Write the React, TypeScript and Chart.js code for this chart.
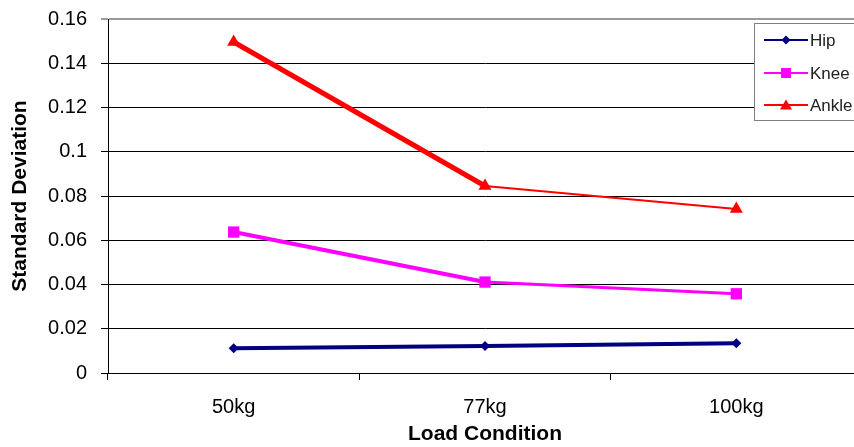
import React, { useEffect, useRef } from 'react';
import { Chart, registerables } from 'chart.js';

Chart.register(...registerables);

const categories = ['50kg', '77kg', '100kg'];
const seriesNames = ['Hip', 'Knee', 'Ankle'];
const seriesColors = ['#000080', '#FF00FF', '#FF0000'];
const hipValues = [0.0112, 0.0122, 0.0134];
const kneeValues = [0.0637, 0.0411, 0.0358];
const ankleValues = [0.1496, 0.0845, 0.0741];
const yTickLabels = ['0', '0.02', '0.04', '0.06', '0.08', '0.1', '0.12', '0.14', '0.16'];
const xTitle = 'Load Condition';
const yTitle = 'Standard Deviation';

const FONT = "'Liberation Sans', Arial, sans-serif";

function drawMarker(ctx: CanvasRenderingContext2D, style: string, x: number, y: number, r: number) {
  ctx.beginPath();
  if (style === 'rectRot') {
    ctx.moveTo(x - r, y);
    ctx.lineTo(x, y - r);
    ctx.lineTo(x + r, y);
    ctx.lineTo(x, y + r);
  } else if (style === 'rect') {
    ctx.rect(x - r, y - r, 2 * r, 2 * r);
  } else {
    ctx.moveTo(x, y - r);
    ctx.lineTo(x + r * 1.1, y + r * 0.8);
    ctx.lineTo(x - r * 1.1, y + r * 0.8);
  }
  ctx.closePath();
  ctx.fill();
}

const legendPlugin = {
  id: 'boxLegend',
  afterDraw(chart: any) {
    const ctx = chart.ctx as CanvasRenderingContext2D;
    const left = 754.5;
    const top = 23.5;
    const bottom = 120.5;
    ctx.save();
    ctx.fillStyle = '#ffffff';
    ctx.fillRect(left, top, chart.width - left + 5, bottom - top);
    ctx.strokeStyle = '#808080';
    ctx.lineWidth = 1;
    ctx.strokeRect(left, top, chart.width - left + 5, bottom - top);
    const rows = [40, 73, 105];
    const markerSizes = [4.5, 5, 5.5];
    chart.data.datasets.forEach((ds: any, i: number) => {
      const y = rows[i];
      ctx.strokeStyle = ds.borderColor;
      ctx.fillStyle = ds.borderColor;
      ctx.lineWidth = 2;
      ctx.beginPath();
      ctx.moveTo(764, y);
      ctx.lineTo(808, y);
      ctx.stroke();
      drawMarker(ctx, ds.pointStyle, 786, y, markerSizes[i]);
      ctx.fillStyle = '#222';
      ctx.font = `17px ${FONT}`;
      ctx.textAlign = 'left';
      ctx.textBaseline = 'middle';
      ctx.fillText(ds.label, 810, y + 1);
    });
    ctx.restore();
  },
};

export default function App() {
  const canvasRef = useRef<HTMLCanvasElement | null>(null);

  useEffect(() => {
    document.body.style.margin = '0';
    const canvas = canvasRef.current;
    if (!canvas) return;
    const chart = new Chart(canvas, {
      type: 'line',
      data: {
        labels: categories,
        datasets: [
          {
            label: seriesNames[0],
            data: hipValues,
            borderColor: seriesColors[0],
            backgroundColor: seriesColors[0],
            borderWidth: 4,
            pointStyle: 'rectRot',
            pointRadius: 5,
            pointBorderWidth: 0,
            tension: 0,
          },
          {
            label: seriesNames[1],
            data: kneeValues,
            borderColor: seriesColors[1],
            backgroundColor: seriesColors[1],
            borderWidth: 4,
            pointStyle: 'rect',
            pointRadius: 8,
            pointBorderWidth: 0,
            tension: 0,
            segment: { borderWidth: (c: any) => (c.p0DataIndex === 0 ? 4 : 3) },
          },
          {
            label: seriesNames[2],
            data: ankleValues,
            borderColor: seriesColors[2],
            backgroundColor: seriesColors[2],
            borderWidth: 5,
            pointStyle: 'triangle',
            pointRadius: 7.5,
            pointBorderWidth: 0,
            tension: 0,
            segment: { borderWidth: (c: any) => (c.p0DataIndex === 0 ? 5 : 2) },
          },
        ],
      },
      options: {
        responsive: false,
        animation: false,
        layout: { padding: { top: 19, right: 6, left: 0, bottom: 0 } },
        plugins: {
          legend: { display: false },
          tooltip: { enabled: false },
        },
        scales: {
          x: {
            type: 'category',
            offset: true,
            grid: {
              offset: true,
              drawOnChartArea: false,
              drawTicks: true,
              tickLength: 7,
              color: '#000',
            },
            border: { display: true, color: '#000' },
            ticks: {
              color: '#000',
              font: { family: FONT, size: 20 },
              padding: 15,
              maxRotation: 0,
            },
            title: {
              display: true,
              text: xTitle,
              color: '#000',
              font: { family: FONT, size: 21, weight: 'bold' },
              padding: { top: 0, bottom: 13 },
            },
            afterFit: (s: any) => {
              s.height = 87;
              s.paddingLeft = 0;
              s.paddingRight = 0;
            },
          },
          y: {
            min: 0,
            max: 0.16,
            ticks: {
              stepSize: 0.02,
              color: '#000',
              font: { family: FONT, size: 20 },
              padding: 14,
              callback: (_v: any, i: number) => yTickLabels[i],
            },
            grid: {
              color: (c: any) => (c.index === yTickLabels.length - 1 ? '#9a9a9a' : '#000'),
              lineWidth: (c: any) => (c.index === yTickLabels.length - 1 ? 2 : 1),
              tickLength: 7,
              drawTicks: true,
            },
            border: { display: true, color: '#000' },
            title: {
              display: true,
              text: yTitle,
              color: '#000',
              font: { family: FONT, size: 21, weight: 'bold' },
              padding: { top: 8, bottom: 0 },
            },
            afterFit: (s: any) => {
              s.width = 108;
              s.paddingTop = 0;
              s.paddingBottom = 0;
            },
          },
        },
      },
      plugins: [legendPlugin],
    } as any);
    return () => chart.destroy();
  }, []);

  return (
    <div style={{ position: 'absolute', left: 0, top: 0, width: 854, height: 447, overflow: 'hidden', background: '#fff' }}>
      <canvas ref={canvasRef} width={870} height={460} style={{ display: 'block' }} />
    </div>
  );
}
